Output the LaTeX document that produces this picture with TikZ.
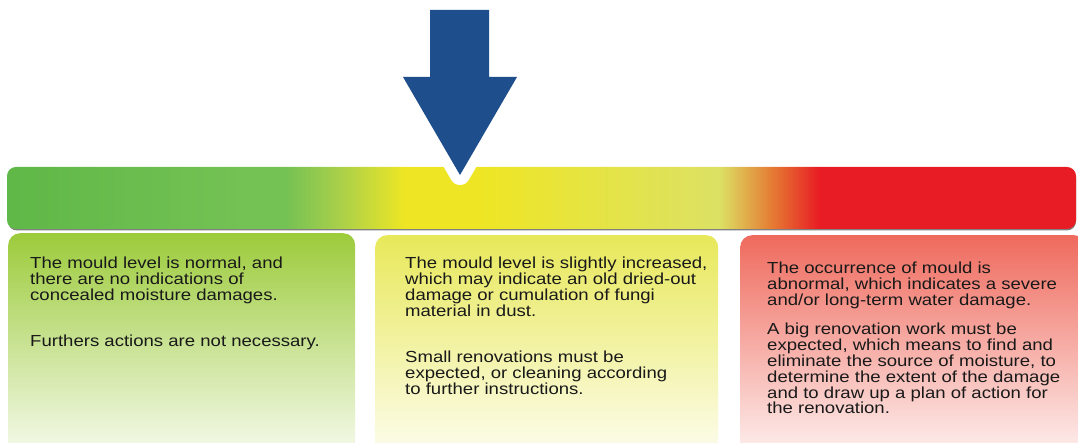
\documentclass[tikz,border=0pt]{standalone}
\usepackage{fontspec}
\setmainfont{Liberation Sans}[FakeStretch=1.16]
\usetikzlibrary{positioning}

\definecolor{barGreen}{RGB}{95,184,71}
\definecolor{barLightGreen}{RGB}{116,193,84}
\definecolor{barLime}{RGB}{170,208,74}
\definecolor{barYellow}{RGB}{238,230,36}
\definecolor{barPale}{RGB}{220,225,100}
\definecolor{barOrange}{RGB}{229,122,51}
\definecolor{barRed}{RGB}{232,28,36}
\definecolor{arrowBlue}{RGB}{31,78,140}
\definecolor{lowTop}{RGB}{156,203,59}
\definecolor{midTop}{RGB}{232,232,90}
\definecolor{highTop}{RGB}{239,106,93}

% left to right: path spans 25bp..75bp
\pgfdeclarehorizontalshading{mouldscale}{100bp}{%
  color(0bp)=(barGreen); color(25bp)=(barGreen);
  color(36bp)=(barLightGreen); color(38bp)=(barLightGreen);
  color(40.6bp)=(barLime); color(43.6bp)=(barYellow);
  color(47bp)=(barYellow); color(58.3bp)=(barPale);
  color(60.8bp)=(barOrange); color(63bp)=(barRed);
  color(100bp)=(barRed)}

\begin{document}
\begin{tikzpicture}[x=1pt,y=1pt,
    levelbox/.style={rounded corners=12pt, anchor=north west, inner sep=0pt,
      minimum height=235pt, top color=#1, bottom color=#1!4},
    leveltext/.style={anchor=north west, inner sep=0pt, align=left,
      font=\fontsize{16}{15.9}\selectfont, text=black!90}]
    \useasboundingbox (0,0) rectangle (1078,443);

    % scale bar
    \fill[black!50, rounded corners=9pt] (8,212.5) rectangle (1076,274);
    \shade[shading=mouldscale, rounded corners=9pt] (7,214) rectangle (1076,276);

    % marker
    \draw[white, line width=20pt, line join=round] (430,433) -- (489,433) -- (489,366) -- (517,366) -- (460,268) -- (403,366) -- (430,366) -- cycle;
    \fill[arrowBlue] (430,433) -- (489,433) -- (489,366) -- (517,366) -- (460,268) -- (403,366) -- (430,366) -- cycle;

    \begin{scope}
        \clip (0,0) rectangle (1078,443);
        \node[levelbox=lowTop, minimum width=347pt] (lowbox) at (8,210) {};
        \node[levelbox=midTop, minimum width=343pt] (midbox) at (375,208) {};
        \node[levelbox=highTop, minimum width=346pt] (highbox) at (740,208) {};
    \end{scope}

    \node[leveltext] (lowtext) at ([xshift=22pt, yshift=-24pt]lowbox.north west)
        {The mould level is normal, and\\
         there are no indications of\\
         concealed moisture damages.\\[30pt]
         Furthers actions are not necessary.};

    \node[leveltext] (midtext) at ([xshift=30pt, yshift=-22pt]midbox.north west)
        {The mould level is slightly increased,\\
         which may indicate an old dried-out\\
         damage or cumulation of fungi\\
         material in dust.\\[30pt]
         Small renovations must be\\
         expected, or cleaning according\\
         to further instructions.};

    \node[leveltext] (hightext) at ([xshift=27pt, yshift=-27pt]highbox.north west)
        {The occurrence of mould is\\
         abnormal, which indicates a severe\\
         and/or long-term water damage.\\[13pt]
         A big renovation work must be\\
         expected, which means to find and\\
         eliminate the source of moisture, to\\
         determine the extent of the damage\\
         and to draw up a plan of action for\\
         the renovation.};
\end{tikzpicture}
\end{document}
